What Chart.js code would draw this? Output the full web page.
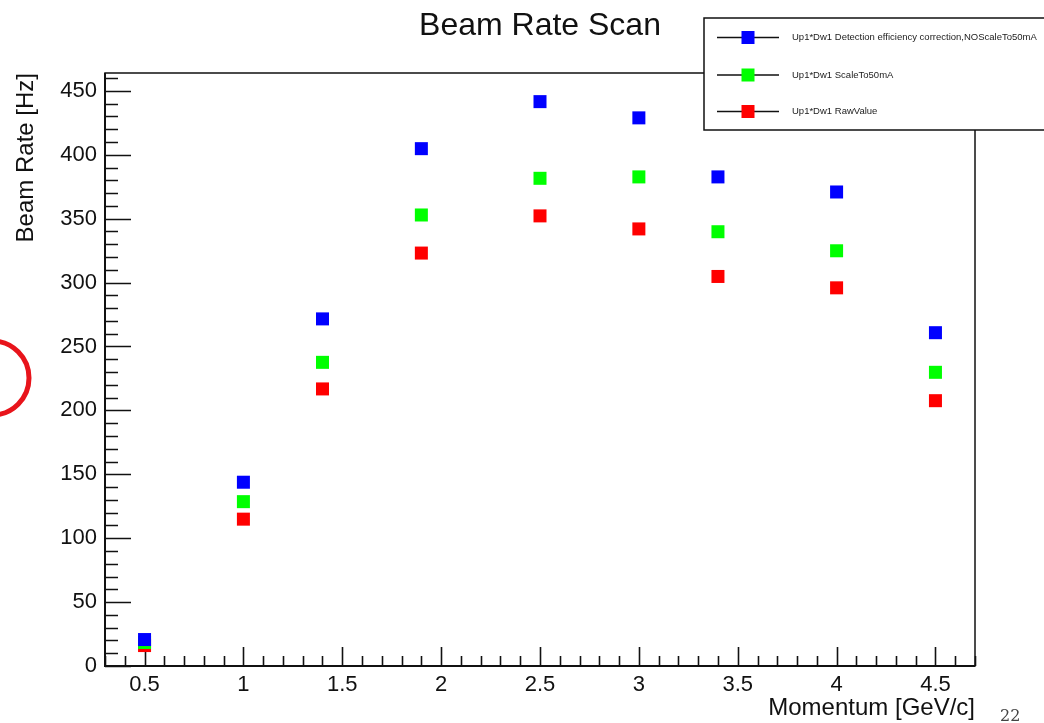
<!DOCTYPE html>
<html>
<head>
<meta charset="utf-8">
<script src="https://cdn.jsdelivr.net/npm/chart.js@4"></script>
<style>
  body { margin: 0; background: #fff; }
  #wrap { width: 1044px; height: 723px; }
</style>
</head>
<body>
<div id="wrap"><canvas id="chart" width="1044" height="723"></canvas></div>
<script>
const momentum = [0.5, 1, 1.4, 1.9, 2.5, 3, 3.4, 4, 4.5];
const rateCorrected = [20.7, 143.8, 271.6, 404.8, 441.6, 428.9, 382.7, 370.9, 260.8];
const rateScaled = [18.4, 128.6, 237.6, 352.9, 381.6, 382.7, 339.8, 324.9, 229.8];
const rateRaw = [16.0, 114.9, 216.8, 323.1, 352.2, 342.0, 304.8, 295.9, 207.6];

const seriesLabels = [
    'Up1*Dw1 Detection efficiency correction,NOScaleTo50mA',
    'Up1*Dw1 ScaleTo50mA',
    'Up1*Dw1 RawValue'
];

// axis tick marks (ROOT style: major labelled, minor in between)
const xMajorTicks = [0.5, 1, 1.5, 2, 2.5, 3, 3.5, 4, 4.5];
const yMajorTicks = [0, 50, 100, 150, 200, 250, 300, 350, 400, 450];
const xMinorTicks = [];
for (let i = 3; i <= 47; i++) xMinorTicks.push(i / 10);
const yMinorTicks = [];
for (let v = 0; v <= 460; v += 10) yMinorTicks.push(v);

const FONT = "'Liberation Sans', Arial, Helvetica, sans-serif";
const INK = '#111';

function toPoints(ys) {
    return momentum.map((m, i) => ({ x: m, y: ys[i] }));
}
function isMajor(v, list) {
    return list.some(t => Math.abs(t - v) < 1e-6);
}

// frame + inward ticks, drawn under the markers
const rootAxes = {
    id: 'rootAxes',
    beforeDatasetsDraw(chart) {
        const { ctx, chartArea: a, scales: { x, y } } = chart;
        ctx.save();
        ctx.strokeStyle = INK;
        ctx.lineWidth = 1.5;
        ctx.strokeRect(a.left, a.top, a.right - a.left, a.bottom - a.top);

        ctx.lineWidth = 1.6;
        ctx.beginPath();
        y.ticks.forEach(t => {
            const py = Math.round(y.getPixelForValue(t.value)) + 0.5;
            const len = isMajor(t.value, yMajorTicks) ? 26 : 13;
            ctx.moveTo(a.left, py);
            ctx.lineTo(a.left + len, py);
        });
        x.ticks.forEach(t => {
            const px = Math.round(x.getPixelForValue(t.value)) + 0.5;
            const len = isMajor(t.value, xMajorTicks) ? 19 : 10;
            ctx.moveTo(px, a.bottom);
            ctx.lineTo(px, a.bottom - len);
        });
        ctx.stroke();

        // heavier axis lines
        ctx.lineWidth = 2;
        ctx.beginPath();
        ctx.moveTo(a.left, a.top);
        ctx.lineTo(a.left, a.bottom);
        ctx.lineTo(a.right, a.bottom);
        ctx.stroke();
        ctx.restore();
    }
};

// ROOT TLegend box, red slide circle and page number
const rootExtras = {
    id: 'rootExtras',
    afterDraw(chart) {
        const { ctx } = chart;
        ctx.save();

        // legend box
        const bx = 704, by = 18, bw = 345, bh = 112;
        ctx.fillStyle = '#fff';
        ctx.fillRect(bx, by, bw, bh);
        ctx.strokeStyle = INK;
        ctx.lineWidth = 1.5;
        ctx.strokeRect(bx, by, bw, bh);

        const rows = [37.5, 75, 111.5];
        chart.data.datasets.forEach((ds, i) => {
            const ry = rows[i];
            ctx.strokeStyle = INK;
            ctx.lineWidth = 1.3;
            ctx.beginPath();
            ctx.moveTo(717, ry);
            ctx.lineTo(779, ry);
            ctx.stroke();
            ctx.fillStyle = ds.backgroundColor;
            ctx.fillRect(748 - 6.5, ry - 6.5, 13, 13);
            ctx.fillStyle = '#222';
            ctx.font = '9.5px ' + FONT;
            ctx.textBaseline = 'middle';
            ctx.textAlign = 'left';
            ctx.fillText(ds.label, 792, ry);
        });

        // red circle from the slide, cut by the left edge
        ctx.strokeStyle = '#e8141b';
        ctx.lineWidth = 5;
        ctx.beginPath();
        ctx.arc(-8, 378, 37, 0, Math.PI * 2);
        ctx.stroke();

        // slide page number
        ctx.fillStyle = '#444';
        ctx.font = "16px 'DejaVu Serif', 'Liberation Serif', serif";
        ctx.textAlign = 'left';
        ctx.textBaseline = 'alphabetic';
        ctx.fillText('22', 1000, 721);
        ctx.restore();
    }
};

new Chart(document.getElementById('chart'), {
    type: 'scatter',
    data: {
        datasets: [{
            label: seriesLabels[0],
            data: toPoints(rateCorrected),
            backgroundColor: '#0000ff'
        }, {
            label: seriesLabels[1],
            data: toPoints(rateScaled),
            backgroundColor: '#00ff00'
        }, {
            label: seriesLabels[2],
            data: toPoints(rateRaw),
            backgroundColor: '#ff0000'
        }]
    },
    options: {
        responsive: false,
        animation: false,
        showLine: false,
        elements: {
            point: {
                pointStyle: 'rect',
                radius: 9.2,
                hoverRadius: 9.2,
                borderWidth: 0
            }
        },
        layout: {
            padding: { left: 12, right: 69, top: 0, bottom: 0 }
        },
        scales: {
            x: {
                type: 'linear',
                min: 0.3,
                max: 4.7,
                afterBuildTicks: scale => {
                    scale.ticks = xMinorTicks.map(v => ({ value: v }));
                },
                afterFit: scale => { scale.height = 57; },
                grid: { display: false, drawTicks: false },
                border: { display: false },
                ticks: {
                    autoSkip: false,
                    maxRotation: 0,
                    padding: 6,
                    color: INK,
                    font: { family: FONT, size: 22 },
                    callback: v => isMajor(v, xMajorTicks) ? String(Math.round(v * 10) / 10) : ''
                },
                title: {
                    display: true,
                    text: 'Momentum [GeV/c]',
                    align: 'end',
                    color: INK,
                    padding: 0,
                    font: { family: FONT, size: 24 }
                }
            },
            y: {
                min: 0,
                max: 464,
                afterBuildTicks: scale => {
                    scale.ticks = yMinorTicks.map(v => ({ value: v }));
                },
                afterFit: scale => { scale.width = 93; },
                grid: { display: false, drawTicks: false },
                border: { display: false },
                ticks: {
                    autoSkip: false,
                    padding: 8,
                    color: INK,
                    font: { family: FONT, size: 22 },
                    callback: v => isMajor(v, yMajorTicks) ? String(v) : ''
                },
                title: {
                    display: true,
                    text: 'Beam Rate [Hz]',
                    align: 'end',
                    color: INK,
                    padding: 0,
                    font: { family: FONT, size: 24 }
                }
            }
        },
        plugins: {
            legend: { display: false },
            tooltip: { enabled: false },
            title: {
                display: true,
                text: 'Beam Rate Scan',
                fullSize: false,
                color: INK,
                font: { family: FONT, size: 32, weight: 'normal' },
                padding: { top: 7, bottom: 27.6 }
            }
        }
    },
    plugins: [rootAxes, rootExtras]
});
</script>
</body>
</html>
